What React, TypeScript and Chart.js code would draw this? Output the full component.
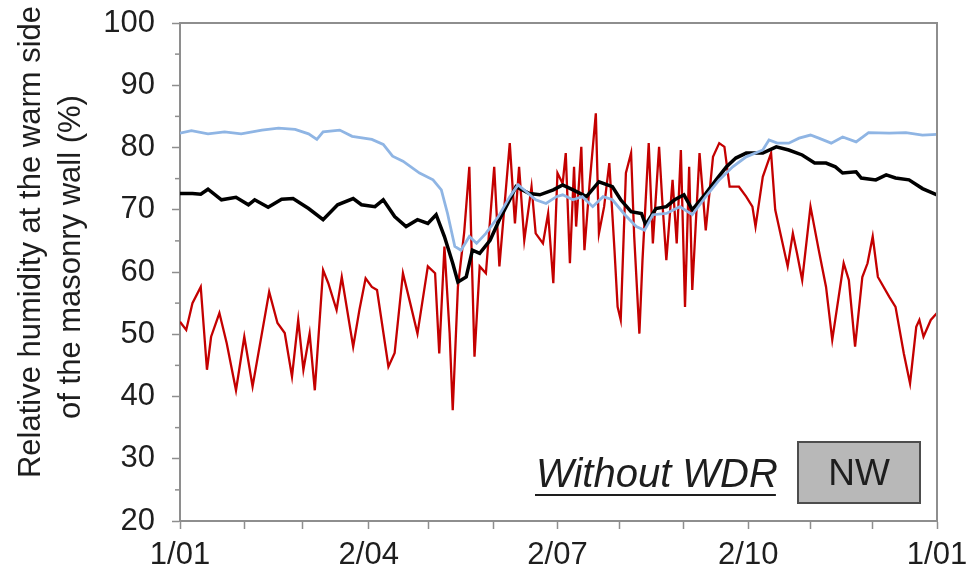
import { useEffect, useRef } from "react";
import { Chart, registerables } from "chart.js";

Chart.register(...registerables);

// ---- Data (day of year, relative humidity %) ----
const redDays = [
  0, 3, 6, 10, 13, 15, 19, 22.5, 27, 31,
  35, 43, 47, 50.5, 54, 57, 59.5, 62.5, 65, 69,
  71.5, 75.5, 78, 83.5, 86.5, 89.5, 92.5, 95, 100.5, 103.5,
  107.5, 111, 114.5, 119.5, 123, 125, 127.5, 130, 131.5, 134,
  137, 139.5, 142, 144.5, 147.5, 151.5, 154, 159, 161.5, 163.5,
  166, 169.5, 171.5, 175, 177.5, 180, 182, 184.5, 186, 188,
  190, 191, 193.5, 195, 197.5, 200.5, 202, 204.5, 207, 209.5,
  211, 212.5, 215, 217.5, 219, 221.5, 223, 226, 228, 231,
  232.5, 234.5, 237.5, 239.5, 241.5, 243.5, 245.5, 247, 250.5, 253.5,
  257, 260, 262.5, 265, 269.5, 273, 276, 277.5, 281, 285,
  287, 289.5, 293, 295.5, 297.5, 300, 304, 308, 311.5, 314.5,
  320, 322.5, 325.5, 329, 331.5, 334, 336.5, 342, 345, 349,
  352, 355, 356.5, 358.5, 362, 365,
];
const redValues = [
  52, 50.7, 55, 57.6, 44.3, 49.6, 53.4, 48.6, 41, 49.6,
  41.6, 56.8, 51.8, 50.2, 43.2, 52.3, 44.3, 50.1, 41, 60.3,
  58.2, 53.9, 59.2, 48, 53.9, 59, 57.6, 57.1, 44.8, 47,
  59.8, 55, 50.1, 60.9, 59.8, 46.9, 64.1, 50.2, 37.8, 57.6,
  66.3, 76.9, 46.4, 60.9, 59.8, 76.9, 60.9, 80.7, 67.8, 76.9,
  65.1, 73.7, 66.2, 64.6, 69.4, 58.2, 75.9, 74.2, 79.1, 61.4,
  76.9, 67.3, 80.1, 63.5, 74.2, 85.5, 66.2, 70.5, 77.5, 63.5,
  54.4, 52.3, 75.9, 79.1, 65.7, 50.1, 61.9, 80.7, 64.6, 80.1,
  71.6, 61.9, 74.8, 64.6, 79.6, 54.4, 76.9, 57.1, 79.1, 66.7,
  78.5, 80.7, 80.1, 73.7, 73.7, 72.1, 70.5, 67.3, 75.3, 79.1,
  70, 66.2, 60.9, 66.2, 63, 58.7, 70.5, 63.5, 57.6, 49.1,
  61.4, 58.7, 48, 59.2, 61.4, 65.7, 59.2, 56, 54.4, 46.9,
  42.1, 51.2, 52.3, 49.6, 52.3, 53.4,
];

const blackDays = [
  0, 6, 10, 13.5, 20, 27, 33, 36, 42.5, 49,
  54.5, 62, 69, 76, 83.5, 87.5, 94, 98, 103.5, 109,
  114.5, 119.5, 123.5, 127.5, 131.5, 134, 138, 141, 144.5, 149.5,
  154, 159, 162, 168.5, 173.5, 180, 184.5, 189.5, 196, 202,
  208.5, 212.5, 217.5, 222.5, 224.5, 229.5, 234.5, 238.5, 243, 247,
  253.5, 258.5, 263.5, 268, 273, 281, 287.5, 293.5, 300, 306,
  311.5, 316, 319.5, 326, 328.5, 335.5, 340.5, 345, 351.5, 358,
  365,
];
const blackValues = [
  72.6, 72.6, 72.5, 73.3, 71.6, 72, 70.8, 71.6, 70.4, 71.7,
  71.8, 70.2, 68.4, 70.8, 71.8, 70.8, 70.5, 71.6, 68.9, 67.3,
  68.4, 67.8, 69.2, 65.7, 61.4, 58.4, 59.2, 63.5, 63, 65.1,
  68.4, 71.6, 73.7, 72.6, 72.4, 73.2, 74, 73.2, 72.1, 74.5,
  73.7, 71.6, 69.7, 69.4, 67.6, 70.2, 70.5, 71.6, 72.4, 70,
  72.6, 74.8, 76.9, 78.3, 79.1, 79.1, 80.1, 79.6, 78.8, 77.5,
  77.5, 76.9, 75.9, 76.1, 75.1, 74.8, 75.6, 75.1, 74.8, 73.4,
  72.4,
];

const blueDays = [
  0, 5.5, 13.5, 21.5, 29.5, 39.5, 47.5, 55.5, 62, 66,
  69, 77, 83, 92.5, 98, 102.5, 107.5, 115.5, 122, 126,
  129, 132.5, 135.5, 139.5, 143, 147.5, 153.5, 159, 163, 167,
  171.5, 176.5, 181.5, 184.5, 189.5, 194, 199, 204, 208.5, 214.5,
  220, 224, 228, 234.5, 241, 247, 253.5, 260, 266.5, 273,
  281, 284, 288, 293.5, 298.5, 304, 308, 314, 319.5, 326,
  332, 342, 350, 358, 365,
];
const blueValues = [
  82.3, 82.7, 82.2, 82.5, 82.2, 82.8, 83.1, 82.9, 82.2, 81.3,
  82.5, 82.8, 81.8, 81.3, 80.5, 78.6, 77.8, 75.9, 74.8, 73.2,
  69.4, 64.1, 63.5, 65.7, 64.6, 66.2, 68.9, 72.1, 74, 72.9,
  71.6, 71, 72.1, 72.4, 71.6, 72.1, 70.5, 72.1, 71.6, 69.2,
  67.3, 66.7, 69.2, 69.4, 70.5, 69.2, 72.1, 74.8, 76.9, 78.5,
  79.6, 81.2, 80.7, 80.7, 81.5, 82, 81.5, 80.7, 81.7, 80.9,
  82.4, 82.3, 82.4, 82, 82.1,
];

// ---- Axis ticks & labels ----
const monthTickDays = [0, 31, 59, 91, 120, 151, 182, 212, 243, 274, 304, 334, 365];
const monthTickLabels = ["1/01", "", "", "2/04", "", "", "2/07", "", "", "2/10", "", "", "1/01"];
const yMin = 20;
const yMax = 100;
const yStep = 10;
const yTitleLines = ["Relative humidity at the warm side", "of the masonry wall (%)"];
const annotationLabel = "Without WDR";
const orientationLabel = "NW";

const FONT = '"Liberation Sans", Arial, Helvetica, sans-serif';
const TEXT_COLOR = "#1e1e1e";
const FRAME_COLOR = "#8e8e8e";

function toPoints(days: number[], values: number[]) {
  return days.map((d, i) => ({ x: d, y: values[i] }));
}

const overlayPlugin = {
  id: "overlay",
  afterDraw(chart: any) {
    const { ctx, chartArea } = chart;
    const { left, right, top, bottom } = chartArea;
    const yScale = chart.scales.y;
    ctx.save();

    // top & right frame
    ctx.strokeStyle = FRAME_COLOR;
    ctx.lineWidth = 2;
    ctx.beginPath();
    ctx.moveTo(left, top);
    ctx.lineTo(right, top);
    ctx.lineTo(right, bottom);
    ctx.stroke();

    // minor y ticks
    ctx.lineWidth = 1.5;
    for (let v = yMin + yStep / 2; v < yMax; v += yStep) {
      const py = yScale.getPixelForValue(v);
      ctx.beginPath();
      ctx.moveTo(left - 5, py);
      ctx.lineTo(left, py);
      ctx.stroke();
    }

    // y-axis title (two rotated lines)
    ctx.fillStyle = TEXT_COLOR;
    ctx.font = `31px ${FONT}`;
    ctx.textAlign = "center";
    ctx.textBaseline = "alphabetic";
    const titlePos = [
      { x: 40, y: 242 },
      { x: 80, y: 257 },
    ];
    yTitleLines.forEach((line, i) => {
      ctx.save();
      ctx.translate(titlePos[i].x, titlePos[i].y);
      ctx.rotate(-Math.PI / 2);
      ctx.fillText(line, 0, 0);
      ctx.restore();
    });

    // "Without WDR" italic, underlined
    ctx.font = `italic 40px ${FONT}`;
    ctx.textAlign = "left";
    const ax = 536;
    const ay = 487;
    ctx.fillText(annotationLabel, ax, ay);
    const w = ctx.measureText(annotationLabel).width;
    ctx.strokeStyle = TEXT_COLOR;
    ctx.lineWidth = 2;
    ctx.beginPath();
    ctx.moveTo(ax - 1, ay + 8);
    ctx.lineTo(ax + w - 2, ay + 8);
    ctx.stroke();

    // NW box
    const bx = 798, by = 442, bw = 122, bh = 61;
    ctx.fillStyle = "#b8b8b8";
    ctx.fillRect(bx, by, bw, bh);
    ctx.strokeStyle = "#4d4d4d";
    ctx.lineWidth = 2;
    ctx.strokeRect(bx, by, bw, bh);
    ctx.fillStyle = TEXT_COLOR;
    ctx.font = `37px ${FONT}`;
    ctx.textAlign = "center";
    ctx.fillText(orientationLabel, bx + bw / 2, by + 43);

    ctx.restore();
  },
};

export default function App() {
  const canvasRef = useRef<HTMLCanvasElement | null>(null);

  useEffect(() => {
    const canvas = canvasRef.current;
    if (!canvas) return;
    const chart = new Chart(canvas, {
      type: "line",
      data: {
        datasets: [
          {
            label: "blue",
            data: toPoints(blueDays, blueValues),
            borderColor: "#8fb5e4",
            borderWidth: 2.8,
            pointRadius: 0,
            tension: 0,
            fill: false,
          },
          {
            label: "black",
            data: toPoints(blackDays, blackValues),
            borderColor: "#000000",
            borderWidth: 3.5,
            pointRadius: 0,
            tension: 0,
            fill: false,
          },
          {
            label: "red",
            data: toPoints(redDays, redValues),
            borderColor: "#c40000",
            borderWidth: 2.3,
            pointRadius: 0,
            tension: 0,
            fill: false,
          },
        ],
      },
      options: {
        animation: false,
        responsive: false,
        maintainAspectRatio: false,
        layout: { padding: { top: 23, right: 34, left: 0, bottom: 0 } },
        plugins: {
          legend: { display: false },
          tooltip: { enabled: false },
          title: { display: false },
        },
        scales: {
          x: {
            type: "linear",
            min: 0,
            max: 365,
            afterBuildTicks: (scale: any) => {
              scale.ticks = monthTickDays.map((v) => ({ value: v }));
            },
            afterFit: (scale: any) => {
              scale.height = 56;
              scale.paddingLeft = 0;
              scale.paddingRight = 0;
            },
            ticks: {
              autoSkip: false,
              maxRotation: 0,
              minRotation: 0,
              padding: 8,
              color: TEXT_COLOR,
              font: { family: FONT, size: 31 },
              callback: (_v: any, index: number) => monthTickLabels[index] ?? "",
            },
            grid: {
              drawOnChartArea: false,
              drawTicks: true,
              tickLength: 8,
              tickColor: FRAME_COLOR,
              tickWidth: 1.5,
            },
            border: { display: true, color: FRAME_COLOR, width: 2 },
          },
          y: {
            type: "linear",
            min: yMin,
            max: yMax,
            afterFit: (scale: any) => {
              scale.width = 180;
              scale.paddingTop = 0;
              scale.paddingBottom = 0;
            },
            ticks: {
              stepSize: yStep,
              padding: 17,
              color: TEXT_COLOR,
              font: { family: FONT, size: 31 },
            },
            grid: {
              drawOnChartArea: false,
              drawTicks: true,
              tickLength: 8,
              tickColor: FRAME_COLOR,
              tickWidth: 1.5,
            },
            border: { display: true, color: FRAME_COLOR, width: 2 },
          },
        },
      },
      plugins: [overlayPlugin],
    });
    return () => chart.destroy();
  }, []);

  return (
    <div style={{ position: "fixed", left: 0, top: 0, width: 971, height: 577, background: "#fff" }}>
      <canvas ref={canvasRef} width={971} height={577} style={{ display: "block" }} />
    </div>
  );
}
